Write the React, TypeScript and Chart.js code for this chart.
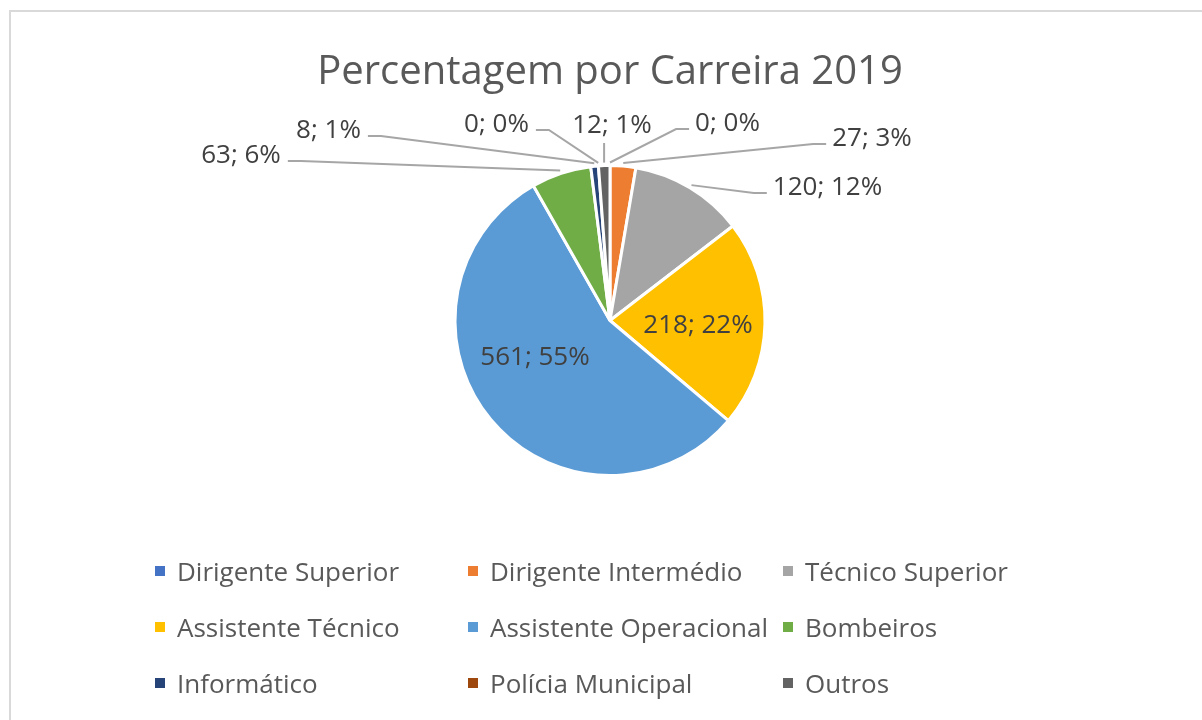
import React, { useEffect, useRef } from "react";
import { Chart, registerables } from "chart.js";

Chart.register(...registerables);

// ---- Data ----
const categories = [
  "Dirigente Superior",
  "Dirigente Intermédio",
  "Técnico Superior",
  "Assistente Técnico",
  "Assistente Operacional",
  "Bombeiros",
  "Informático",
  "Polícia Municipal",
  "Outros",
];
const values = [0, 27, 120, 218, 561, 63, 8, 0, 12];
const percentLabels = ["0%", "3%", "12%", "22%", "55%", "6%", "1%", "0%", "1%"];
const colors = [
  "#4472C4",
  "#ED7D31",
  "#A5A5A5",
  "#FFC000",
  "#5B9BD5",
  "#70AD47",
  "#264478",
  "#9E480E",
  "#636363",
];
const title = "Percentagem por Carreira 2019";

// ---- Layout (label placement relative to the pie centre, px) ----
type Placement = { kind: "inside" | "left" | "right" | "above"; dx: number; dy: number };
const labelPlacement: Placement[] = [
  { kind: "right", dx: 117.5, dy: -189.5 },
  { kind: "right", dx: 262, dy: -174.5 },
  { kind: "right", dx: 217.5, dy: -125.5 },
  { kind: "inside", dx: 88, dy: 12.5 },
  { kind: "inside", dx: -75, dy: 44.5 },
  { kind: "left", dx: -369, dy: -157.5 },
  { kind: "left", dx: -281.5, dy: -182.5 },
  { kind: "left", dx: -113.5, dy: -188.5 },
  { kind: "above", dx: 2, dy: -187.5 },
];
const legendColumnsX = [155, 468, 783];
const legendRowsY = [571, 627, 683];

const FONT = '"Open Sans", "DejaVu Sans", sans-serif';

const framePlugin = {
  id: "frame",
  beforeDraw(chart: any) {
    const ctx = chart.ctx;
    ctx.save();
    ctx.strokeStyle = "#D9D9D9";
    ctx.lineWidth = 2;
    ctx.strokeRect(10, 11, 1400, 1000);
    ctx.restore();
  },
};

const sliceLabelPlugin = {
  id: "sliceLabels",
  afterDatasetsDraw(chart: any) {
    const ctx = chart.ctx;
    const meta = chart.getDatasetMeta(0);
    if (!meta.data.length) return;
    const cx = meta.data[0].x;
    const cy = meta.data[0].y;
    ctx.save();
    ctx.font = `26px ${FONT}`;
    ctx.textAlign = "center";
    ctx.textBaseline = "alphabetic";
    ctx.strokeStyle = "#A6A6A6";
    ctx.lineWidth = 2;
    meta.data.forEach((arc: any, i: number) => {
      const { startAngle, endAngle, outerRadius } = arc.getProps(
        ["startAngle", "endAngle", "outerRadius"],
        true
      );
      const text = `${values[i]}; ${percentLabels[i]}`;
      const p = labelPlacement[i];
      const w = ctx.measureText(text).width;
      const tx = cx + p.dx;
      const by = cy + p.dy;
      ctx.fillStyle = "#404040";
      ctx.fillText(text, tx, by);
      if (p.kind !== "inside") {
        const mid = (startAngle + endAngle) / 2;
        const ax = cx + Math.cos(mid) * (outerRadius + 3);
        const ay = cy + Math.sin(mid) * (outerRadius + 3);
        ctx.beginPath();
        if (p.kind === "above") {
          ctx.moveTo(ax, by + 10);
          ctx.lineTo(ax, ay);
        } else if (p.kind === "right") {
          const x0 = tx - w / 2 - 6;
          ctx.moveTo(x0, by - 2);
          ctx.lineTo(x0 - 13, by - 2);
          ctx.lineTo(ax, ay);
        } else {
          const x0 = tx + w / 2 + 7;
          ctx.moveTo(x0, by - 2);
          ctx.lineTo(x0 + 13, by - 2);
          ctx.lineTo(ax, ay);
        }
        ctx.stroke();
      }
    });
    ctx.restore();
  },
};

const gridLegendPlugin = {
  id: "gridLegend",
  afterDraw(chart: any) {
    const ctx = chart.ctx;
    const labels: string[] = chart.data.labels;
    const bg: string[] = chart.data.datasets[0].backgroundColor;
    ctx.save();
    ctx.font = `26px ${FONT}`;
    ctx.textAlign = "left";
    ctx.textBaseline = "alphabetic";
    labels.forEach((label, i) => {
      const x = legendColumnsX[i % 3];
      const y = legendRowsY[Math.floor(i / 3)];
      ctx.fillStyle = bg[i];
      ctx.fillRect(x, y - 5, 10, 10);
      ctx.fillStyle = "#595959";
      ctx.fillText(label, x + 22, y + 10);
    });
    ctx.restore();
  },
};

export default function App() {
  const canvasRef = useRef<HTMLCanvasElement | null>(null);

  useEffect(() => {
    if (!canvasRef.current) return;
    const chart = new Chart(canvasRef.current, {
      type: "pie",
      data: {
        labels: categories,
        datasets: [
          {
            data: values,
            backgroundColor: colors,
            borderColor: "#FFFFFF",
            borderWidth: 3,
          },
        ],
      },
      options: {
        animation: false,
        responsive: false,
        devicePixelRatio: 1,
        layout: { padding: { left: 18, right: 0, top: 0, bottom: 243 } },
        plugins: {
          legend: { display: false },
          tooltip: { enabled: false },
          title: {
            display: true,
            text: title,
            color: "#595959",
            font: { family: FONT, size: 40, weight: "normal" },
            padding: { top: 49, bottom: 67 },
          },
        },
      },
      plugins: [framePlugin, sliceLabelPlugin, gridLegendPlugin],
    });
    return () => chart.destroy();
  }, []);

  return (
    <div style={{ position: "absolute", left: 0, top: 0, width: 1202, height: 720, background: "#FFFFFF" }}>
      <canvas ref={canvasRef} width={1202} height={720} style={{ display: "block" }} />
    </div>
  );
}
